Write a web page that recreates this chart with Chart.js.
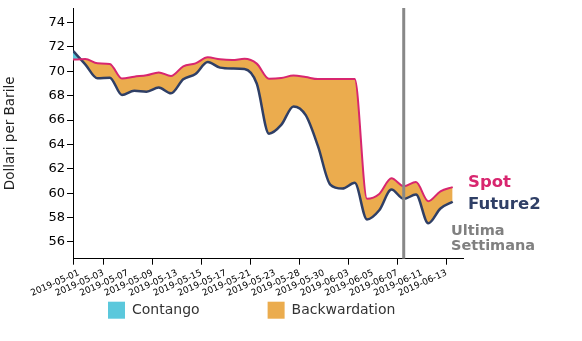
<!DOCTYPE html>
<html><head><meta charset="utf-8">
<script src="https://cdn.jsdelivr.net/npm/chart.js@4/dist/chart.umd.min.js"></script>
<style>html,body{margin:0;padding:0;background:#fff;}#wrap{width:582px;height:341px;}</style>
</head><body><div id="wrap"><canvas id="c" width="582" height="341"></canvas></div>
<script>
const dates = ['2019-05-01','2019-05-02','2019-05-03','2019-05-06','2019-05-07','2019-05-08','2019-05-09','2019-05-10',
  '2019-05-13','2019-05-14','2019-05-15','2019-05-16','2019-05-17','2019-05-20','2019-05-21','2019-05-22',
  '2019-05-23','2019-05-24','2019-05-28','2019-05-29','2019-05-30','2019-05-31','2019-06-03','2019-06-04',
  '2019-06-05','2019-06-06','2019-06-07','2019-06-10','2019-06-11','2019-06-12','2019-06-13','2019-06-14'];
const spotValues = [70.96,71.0,70.65,70.6,69.4,69.56,69.67,69.91,69.61,70.41,70.65,71.15,70.98,70.92,71.03,70.63,
  69.38,69.44,69.66,69.53,69.36,69.36,69.36,69.36,59.55,59.94,61.22,60.57,60.91,59.35,60.16,60.5];
const future2Values = [71.67,70.57,69.42,69.48,68.05,68.4,68.33,68.66,68.19,69.34,69.78,70.76,70.3,70.23,70.19,69.0,
  64.88,65.6,67.12,66.4,63.86,60.71,60.38,60.85,57.85,58.6,60.3,59.53,59.89,57.53,58.75,59.3];
const xTickLabels = ['2019-05-01','2019-05-03','2019-05-07','2019-05-09','2019-05-13','2019-05-15','2019-05-17','2019-05-21',
  '2019-05-23','2019-05-28','2019-05-30','2019-06-03','2019-06-05','2019-06-07','2019-06-11','2019-06-13'];
const yTickValues = [56,58,60,62,64,66,68,70,72,74];
const lastWeekStart = '2019-06-10';
const seriesNames = ['Spot','Future2'];
const legendLabels = ['Contango','Backwardation'];
const lastWeekLabel = ['Ultima','Settimana'];
const yAxisTitle = 'Dollari per Barile';

const COL_SPOT = '#d8266f', COL_FUT = '#2f3f66', COL_CONT = '#5bc8dc', COL_BACK = '#ebac4e';
const FONT = '"DejaVu Sans", Verdana, sans-serif';

const overlay = {
  id: 'overlay',
  afterDatasetsDraw(chart) {
    const {ctx, chartArea, scales} = chart;
    const x = scales.x.getPixelForValue(dates.indexOf(lastWeekStart));
    ctx.save();
    ctx.strokeStyle = '#888888'; ctx.lineWidth = 3;
    ctx.beginPath(); ctx.moveTo(x, chartArea.top); ctx.lineTo(x, chartArea.bottom); ctx.stroke();
    ctx.restore();
  },
  afterDraw(chart) {
    const {ctx, chartArea, scales} = chart;
    const y = scales.y;
    ctx.save();
    ctx.textBaseline = 'middle'; ctx.textAlign = 'left';
    ctx.font = 'bold 16.5px ' + FONT;
    ctx.fillStyle = COL_SPOT;
    ctx.fillText(seriesNames[0], chartArea.right + 5, y.getPixelForValue(spotValues[spotValues.length-1]) - 4);
    ctx.fillStyle = COL_FUT;
    ctx.fillText(seriesNames[1], chartArea.right + 5, y.getPixelForValue(future2Values[future2Values.length-1]) + 3);
    ctx.font = 'bold 14.5px ' + FONT;
    ctx.fillStyle = '#808080';
    ctx.fillText(lastWeekLabel[0], chartArea.right - 12, chartArea.bottom - 27);
    ctx.fillText(lastWeekLabel[1], chartArea.right - 12, chartArea.bottom - 12);
    // legend
    ctx.font = '14px ' + FONT;
    const cols = [COL_CONT, COL_BACK];
    let lx = chartArea.left + 35;
    const ly = chartArea.bottom + 51.5;
    legendLabels.forEach((t, i) => {
      ctx.fillStyle = cols[i];
      ctx.fillRect(lx, ly - 8.5, 17, 17);
      ctx.fillStyle = '#333333';
      ctx.fillText(t, lx + 24, ly);
      lx += 24 + ctx.measureText(t).width + 68;
    });
    ctx.restore();
  }
};

new Chart(document.getElementById('c'), {
  type: 'line',
  data: {
    datasets: [
      { label: seriesNames[0], data: spotValues.map((v,i)=>({x:i,y:v})), borderColor: COL_SPOT, borderWidth: 2,
        pointRadius: 0, fill: false, cubicInterpolationMode: 'monotone' },
      { label: seriesNames[1], data: future2Values.map((v,i)=>({x:i,y:v})), borderColor: COL_FUT, borderWidth: 2.5,
        pointRadius: 0, cubicInterpolationMode: 'monotone',
        fill: { target: 0, above: COL_CONT, below: COL_BACK } }
    ]
  },
  options: {
    responsive: false, animation: false, devicePixelRatio: 1,
    layout: { padding: { left: 0, right: 119, top: 8, bottom: 0 } },
    plugins: { legend: { display: false }, tooltip: { enabled: false } },
    scales: {
      x: {
        type: 'linear', min: 0, max: 31.84,
        afterBuildTicks: s => { s.ticks = [{value: 0}].concat(xTickLabels.map(d => ({value: dates.indexOf(d) + 0.5}))); },
        afterFit: s => { s.height = 82.3; s.paddingLeft = 0; s.paddingRight = 0; },
        ticks: { autoSkip: false, minRotation: 24, maxRotation: 24, color: '#000', padding: 3,
          font: { family: FONT, size: 9 },
          callback: (v, i) => i === 0 ? '' : xTickLabels[i-1] },
        grid: { drawOnChartArea: false, drawTicks: true, tickLength: 6,
          tickColor: c => (c.index % 2 === 0) ? '#000' : 'rgba(0,0,0,0)' },
        border: { color: '#000', width: 1 }
      },
      y: {
        type: 'linear', min: 54.63, max: 75.19,
        afterBuildTicks: s => { s.ticks = yTickValues.map(v => ({value: v})); },
        afterFit: s => { s.width = 73; s.paddingTop = 0; s.paddingBottom = 0; },
        ticks: { color: '#000', padding: 2, font: { family: FONT, size: 13 } },
        grid: { drawOnChartArea: false, drawTicks: true, tickLength: 6, tickColor: '#000' },
        border: { color: '#000', width: 1 },
        title: { display: true, text: yAxisTitle, color: '#222', padding: { top: 2, bottom: 0 },
          font: { family: FONT, size: 13.5 } }
      }
    }
  },
  plugins: [overlay]
});
</script></body></html>
